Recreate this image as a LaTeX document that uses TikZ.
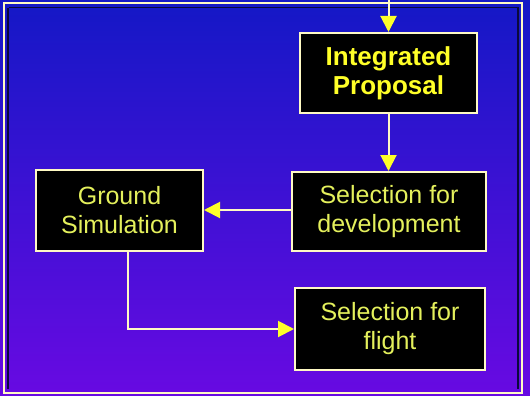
\documentclass[tikz,border=0pt]{standalone}
\usepackage{fontspec}
\setmainfont{Liberation Sans}
\usetikzlibrary{arrows.meta}
\definecolor{bgtop}{RGB}{20,24,198}
\definecolor{bgbot}{RGB}{104,10,226}
\definecolor{cream}{RGB}{255,250,196}
\definecolor{ylw}{RGB}{255,255,40}
\definecolor{txt}{RGB}{228,240,92}
\definecolor{shadow}{RGB}{10,10,60}
\tikzset{
  boxnode/.style={draw=cream, line width=2pt, fill=black, text=txt, align=center,
    inner sep=0pt, font=\fontsize{25}{29}\selectfont},
  link/.style={draw=cream, line width=2pt, -{Triangle[length=16pt,width=16pt,fill=ylw,color=ylw]}},
}
\begin{document}
\begin{tikzpicture}[x=1pt,y=-1pt]
\useasboundingbox (0,0) rectangle (530,396);
\shade[top color=bgtop, bottom color=bgbot] (0,0) rectangle (530,396);
\draw[shadow, line width=1.5pt] (9,7.5) -- (518,7.5) -- (518,389);
\draw[shadow, line width=1.2pt] (8,8) -- (8,389);
\draw[cream, line width=2pt] (4,3) rectangle (522,393);

\node[boxnode, minimum width=177pt, minimum height=80pt, text=ylw,
  font=\fontsize{26}{29}\selectfont\bfseries] (ip) at (388.5,73) {Integrated\\Proposal};
\node[boxnode, minimum width=194pt, minimum height=79pt] (sd) at (389,211.5) {Selection for\\development};
\node[boxnode, minimum width=167pt, minimum height=81pt] (gs) at (119.5,210) {Ground\\Simulation};
\node[boxnode, minimum width=190pt, minimum height=82pt] (sf) at (390,329) {Selection for\\flight};

\coordinate (top) at (388.5,0);
\draw[link] (top) -- (ip.north);
\draw[link] (ip.south) -- (ip.south |- sd.north);
\draw[link] (sd.west |- gs.east) -- (gs.east);
\draw[link] ([xshift=8.5pt]gs.south) |- (sf.west);
\end{tikzpicture}
\end{document}
